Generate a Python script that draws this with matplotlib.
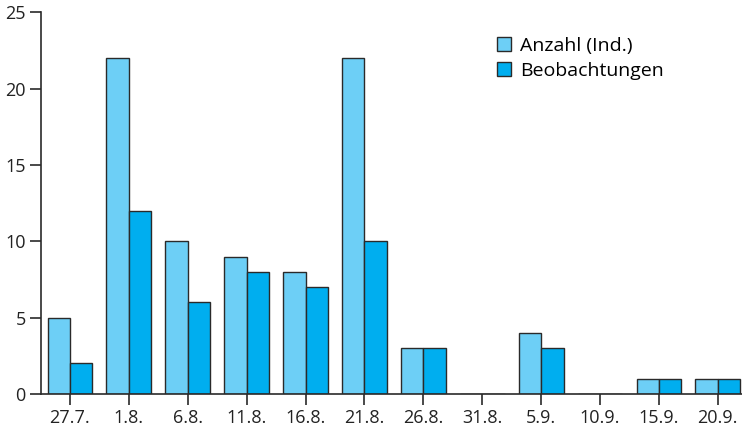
import matplotlib.pyplot as plt
import numpy as np

plt.rcParams['font.family'] = ['Open Sans', 'DejaVu Sans']

dates = ["27.7.", "1.8.", "6.8.", "11.8.", "16.8.", "21.8.",
         "26.8.", "31.8.", "5.9.", "10.9.", "15.9.", "20.9."]
anzahl = [5, 22, 10, 9, 8, 22, 3, 0, 4, 0, 1, 1]
beobachtungen = [2, 12, 6, 8, 7, 10, 3, 0, 3, 0, 1, 1]

x = np.arange(len(dates))
w = 0.38

fig = plt.figure(figsize=(7.42, 4.33), dpi=100)
ax = fig.add_axes([0.0553, 0.090, 0.9447, 0.882])

ax.bar(x - w / 2, anzahl, w, color="#6dcff6", edgecolor="#2a2a2a",
       linewidth=1, label="Anzahl (Ind.)")
ax.bar(x + w / 2, beobachtungen, w, color="#00aeef", edgecolor="#2a2a2a",
       linewidth=1, label="Beobachtungen")

ax.set_xlim(-0.49, 11.41)
ax.set_ylim(0, 25)
ax.set_yticks([0, 5, 10, 15, 20, 25])
ax.set_xticks(x)
ax.set_xticklabels(dates)

for s in ["top", "right"]:
    ax.spines[s].set_visible(False)
for s in ["left", "bottom"]:
    ax.spines[s].set_color("#2a2a2a")
    ax.spines[s].set_linewidth(1.2)

ax.tick_params(axis="both", direction="out", length=8, width=1.2,
               color="#2a2a2a", labelsize=13, labelcolor="#222222")
ax.tick_params(axis="y", pad=3)
ax.tick_params(axis="x", pad=3)

ax.legend(loc="upper left", bbox_to_anchor=(0.64, 0.955), frameon=False,
          fontsize=14, handlelength=0.7, handleheight=0.7,
          handletextpad=0.45, labelspacing=0.35, borderaxespad=0)

fig.savefig("out.png", dpi=100)
